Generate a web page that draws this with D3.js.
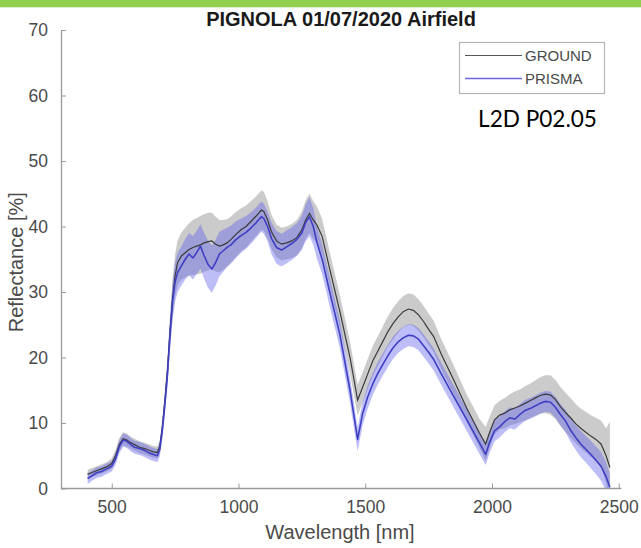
<!DOCTYPE html>
<html>
<head>
<meta charset="utf-8">
<script src="https://cdn.jsdelivr.net/npm/d3@7"></script>
<style>
  html, body { margin: 0; padding: 0; background: #fff; }
  svg { display: block; }
</style>
</head>
<body>
<svg id="chart" width="641" height="548"></svg>
<script>
// Spectral reflectance, PIGNOLA airfield site, 01/07/2020
const wavelengths = [
  405,420,440,460,480,500,515,530,545,560,
  575,590,610,630,650,665,680,690,700,710,
  720,730,740,750,760,775,790,805,820,835,
  850,865,880,895,910,925,940,955,970,990,
  1010,1030,1050,1070,1090,1100,1115,1130,1150,1170,
  1190,1210,1230,1250,1265,1280,1295,1310,1330,1360,
  1400,1440,1470,1490,1510,1530,1550,1570,1590,1610,
  1630,1650,1670,1690,1710,1730,1750,1770,1800,1850,
  1900,1950,1975,1990,2010,2030,2050,2070,2090,2110,
  2130,2150,2170,2190,2210,2230,2250,2270,2290,2310,
  2330,2350,2370,2390,2410,2430,2450,2465
];

// Ground measurements: mean and standard deviation [%]
const groundMean = [
  2.2,2.4,2.7,3.0,3.3,3.8,5.0,6.7,7.6,7.4,
  7.0,6.7,6.3,6.1,5.8,5.6,5.5,6.5,9.5,13.5,
  18.0,24.0,29.0,32.5,34.5,35.5,36.0,36.5,36.8,37.0,
  37.2,37.5,37.7,37.8,37.3,37.0,37.2,37.5,38.0,38.8,
  39.5,40.0,40.8,41.6,42.5,42.3,41.0,39.2,37.8,37.3,
  37.5,37.8,38.3,39.5,41.0,42.0,41.0,40.2,38.5,33.5,
  27.0,20.0,13.5,15.5,17.5,19.5,21.0,22.5,24.0,25.2,
  26.2,27.0,27.4,27.2,26.5,25.5,24.3,23.2,20.5,16.5,
  12.3,8.5,6.8,8.5,10.5,11.2,11.5,12.0,12.3,12.6,
  13.0,13.4,13.8,14.2,14.4,14.3,13.6,12.5,11.6,10.8,
  9.9,9.2,8.6,8.0,7.5,6.8,5.0,3.2
];
const groundStd = [
  0.7,0.7,0.7,0.7,0.7,0.8,0.9,1.0,1.0,1.0,
  0.9,0.9,0.9,0.9,0.9,0.9,0.9,1.0,1.2,1.6,
  2.0,2.5,3.0,3.2,3.4,3.6,3.8,4.0,4.2,4.3,
  4.4,4.4,4.4,4.3,4.2,4.0,3.8,3.6,3.5,3.4,
  3.3,3.2,3.1,3.0,3.0,3.0,2.8,2.6,2.5,2.5,
  2.5,2.6,2.7,2.8,3.0,3.0,2.9,2.8,2.7,2.6,
  2.5,2.4,2.3,2.3,2.3,2.3,2.3,2.3,2.3,2.4,
  2.4,2.4,2.4,2.4,2.4,2.4,2.4,2.4,2.3,2.2,
  2.1,2.2,2.6,2.4,2.2,2.2,2.3,2.4,2.5,2.5,
  2.6,2.6,2.7,2.8,2.9,3.0,3.0,3.0,3.0,3.0,
  3.0,3.0,3.1,3.2,3.3,3.6,4.2,7.0
];

// PRISMA L2D product: mean and standard deviation [%]
const prismaMean = [
  1.5,1.9,2.4,2.6,3.0,3.4,4.5,6.4,7.4,7.2,
  6.7,6.3,6.1,5.8,5.4,5.2,5.0,6.0,9.0,13.0,
  17.5,23.5,28.5,31.5,33.0,34.0,35.0,35.8,35.2,36.0,
  37.0,35.5,34.2,33.5,34.5,35.8,36.3,36.8,37.2,38.0,
  38.6,39.1,39.8,40.6,41.5,41.2,40.0,38.2,36.8,36.4,
  36.9,37.4,38.0,39.0,40.6,41.5,40.0,37.5,35.0,30.0,
  23.5,15.0,7.5,11.5,14.0,16.0,17.6,19.0,20.3,21.5,
  22.4,23.0,23.4,23.3,22.8,21.8,20.8,19.7,17.5,14.0,
  10.5,7.0,5.2,7.0,8.8,9.4,10.2,10.8,10.6,11.3,
  11.9,12.2,12.6,13.0,13.3,13.2,12.4,11.3,10.3,8.9,
  7.8,6.8,6.0,5.2,4.3,3.4,1.8,0.2
];
const prismaStd = [
  0.8,0.8,0.8,0.8,0.8,0.8,0.9,1.0,1.0,1.0,
  1.0,1.0,1.0,1.0,1.0,1.0,1.0,1.1,1.3,1.6,
  2.0,2.4,2.8,3.0,3.0,3.0,3.1,3.2,3.3,3.3,
  3.4,3.5,3.6,3.6,3.5,3.4,3.2,3.0,2.9,2.8,
  2.6,2.5,2.4,2.3,2.3,2.3,2.3,2.4,2.5,2.5,
  2.5,2.5,2.5,2.6,2.8,3.0,2.8,2.5,2.3,2.2,
  2.1,2.0,1.8,1.8,1.8,1.7,1.7,1.7,1.7,1.7,
  1.7,1.7,1.7,1.7,1.7,1.7,1.7,1.7,1.7,1.7,
  1.7,1.7,1.6,1.6,1.6,1.6,1.6,1.6,1.6,1.6,
  1.6,1.6,1.6,1.6,1.6,1.6,1.6,1.6,1.7,1.8,
  1.9,2.0,2.0,2.1,2.1,2.2,2.2,2.0
];

const xTicks = [500, 1000, 1500, 2000, 2500];
const yTicks = [0, 10, 20, 30, 40, 50, 60, 70];
const titleText = "PIGNOLA 01/07/2020 Airfield";
const seriesNames = ["GROUND", "PRISMA"];
const productLabel = "L2D P02.05";

const svg = d3.select("#chart");
const W = 641, H = 548;
const plot = { left: 61, right: 621.3, top: 30, bottom: 488.5 };

const x = d3.scaleLinear().domain([300, 2510]).range([plot.left, plot.right]);
const y = d3.scaleLinear().domain([0, 70]).range([plot.bottom, plot.top]);

const FONT = "'Liberation Sans', Arial, Helvetica, sans-serif";
const axisGray = "#9a9a9a";
const textGray = "#4a4a4a";

// banner strip across the top
svg.append("rect").attr("x", 0).attr("y", 0).attr("width", W).attr("height", 7.3)
  .attr("fill", "#92d050");

svg.append("defs").append("clipPath").attr("id", "plotClip")
  .append("rect")
  .attr("x", plot.left).attr("y", plot.top)
  .attr("width", plot.right - plot.left).attr("height", plot.bottom - plot.top);

const ground = wavelengths.map((w, i) => ({ w, m: groundMean[i], s: groundStd[i] }));
const prisma = wavelengths.map((w, i) => ({ w, m: prismaMean[i], s: prismaStd[i] }));

const band = d3.area()
  .x(d => x(d.w))
  .y0(d => y(d.m - d.s))
  .y1(d => y(d.m + d.s));
const line = d3.line().x(d => x(d.w)).y(d => y(d.m));

const g = svg.append("g").attr("clip-path", "url(#plotClip)");
g.append("path").datum(ground).attr("d", band)
  .attr("fill", "#8c8c8c").attr("fill-opacity", 0.45);
g.append("path").datum(prisma).attr("d", band)
  .attr("fill", "#5a5aeb").attr("fill-opacity", 0.4);
g.append("path").datum(ground).attr("d", line)
  .attr("fill", "none").attr("stroke", "#3a3a3a").attr("stroke-width", 1.2);
g.append("path").datum(prisma).attr("d", line)
  .attr("fill", "none").attr("stroke", "#3f3fc4").attr("stroke-width", 1.6)
  .attr("stroke-linejoin", "round");

// axes with inward ticks
const fmt = d3.format("d");
const xAxis = d3.axisBottom(x).tickValues(xTicks).tickFormat(fmt)
  .tickSizeInner(-5).tickSizeOuter(0).tickPadding(12);
const yAxis = d3.axisLeft(y).tickValues(yTicks).tickFormat(fmt)
  .tickSizeInner(-5).tickSizeOuter(0).tickPadding(13);

const gx = svg.append("g").attr("transform", `translate(0,${plot.bottom})`).call(xAxis);
const gy = svg.append("g").attr("transform", `translate(${plot.left},0)`).call(yAxis);
[gx, gy].forEach(ax => {
  ax.select(".domain").attr("stroke", axisGray).attr("stroke-width", 1.3);
  ax.selectAll(".tick line").attr("stroke", axisGray).attr("stroke-width", 1);
  ax.selectAll(".tick text").attr("fill", textGray)
    .style("font-family", FONT).style("font-size", "17.5px");
});
gx.select(".domain").attr("d", `M${plot.left},0H${plot.right}`);

// title
svg.append("text").attr("x", 341).attr("y", 26)
  .attr("text-anchor", "middle")
  .style("font-family", FONT).style("font-size", "20px").style("font-weight", "bold")
  .attr("fill", "#1a1a1a").text(titleText);

// axis labels
svg.append("text").attr("x", 340).attr("y", 539)
  .attr("text-anchor", "middle")
  .style("font-family", FONT).style("font-size", "20px")
  .attr("fill", textGray).text("Wavelength [nm]");
svg.append("text")
  .attr("transform", `translate(23,${(plot.top + plot.bottom) / 2 + 3}) rotate(-90)`)
  .attr("text-anchor", "middle")
  .style("font-family", FONT).style("font-size", "20px")
  .attr("fill", textGray).text("Reflectance [%]");

// legend
const lg = svg.append("g");
lg.append("rect").attr("x", 459.5).attr("y", 42.5).attr("width", 145).attr("height", 51)
  .attr("fill", "#fff").attr("stroke", "#b5b5b5").attr("stroke-width", 1.2);
const legendStyles = [
  { color: "#555", width: 1.2 },
  { color: "#6a6ad8", width: 1.4 }
];
seriesNames.forEach((name, i) => {
  const cy = 55.5 + i * 23;
  lg.append("line").attr("x1", 465).attr("x2", 522).attr("y1", cy).attr("y2", cy)
    .attr("stroke", legendStyles[i].color).attr("stroke-width", legendStyles[i].width);
  lg.append("text").attr("x", 525).attr("y", cy + 5.5)
    .style("font-family", FONT).style("font-size", "15px")
    .attr("fill", textGray).text(name);
});

// product label, sized to its box width
const pl = svg.append("text").attr("x", 537.5).attr("y", 127)
  .attr("text-anchor", "middle")
  .style("font-family", "Lato, 'Open Sans', sans-serif").style("font-size", "24px")
  .attr("fill", "#000").text(productLabel);
const plW = pl.node().getComputedTextLength();
pl.style("font-size", (24 * 119 / plW).toFixed(2) + "px");
</script>
</body>
</html>
